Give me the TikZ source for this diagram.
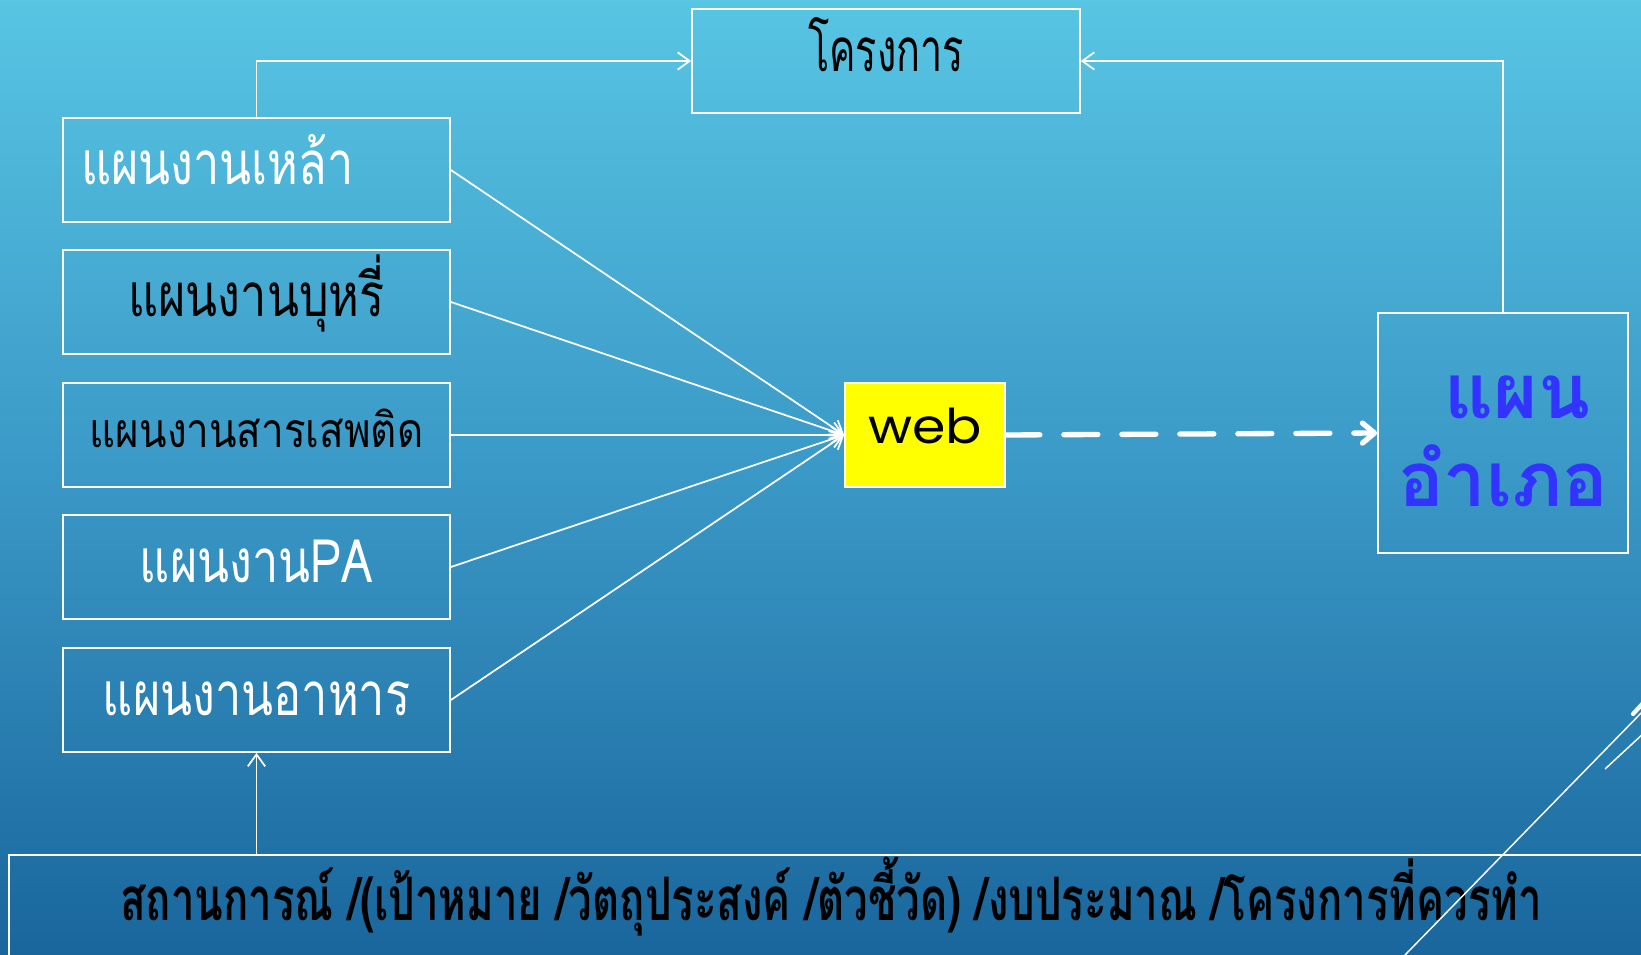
\documentclass[tikz,border=0pt]{standalone}
\usepackage{fontspec}
\usetikzlibrary{arrows.meta}
\newfontfamily\thai[Script=Thai,FakeStretch=0.78]{Loma}
\newfontfamily\thaiproj[Script=Thai,FakeStretch=0.66]{Loma}
\newfontfamily\thaismall[Script=Thai,FakeStretch=0.84]{Loma}
\newfontfamily\thaisit[Script=Thai,FakeStretch=0.70]{Loma}
\newfontfamily\thaiamp[Script=Thai]{Loma}
\newfontfamily\webfont[FakeStretch=1.12]{Poppins}
\definecolor{bgtop}{RGB}{88,197,227}
\definecolor{bgmid}{RGB}{58,152,198}
\definecolor{bgbot}{RGB}{25,102,156}
\definecolor{ampblue}{RGB}{51,51,255}
\definecolor{webyellow}{RGB}{255,255,0}
\begin{document}
\begin{tikzpicture}[x=0.75pt,y=-0.75pt,
  plan/.style={draw=white,line width=1.3pt,inner sep=0pt,
    minimum width=387*0.75pt,minimum height=104*0.75pt,
    font=\thai\fontsize{45}{50}\selectfont,text height=22.5pt,text depth=0pt},
  link/.style={draw=white,line width=1.3pt,-{Straight Barb[length=9pt,width=13pt]}},
  deco/.style={draw=white,line width=1.1pt}]
\useasboundingbox (0,0) rectangle (1641,955);
\shade[top color=bgtop,bottom color=bgbot,middle color=bgmid] (0,0) rectangle (1641,955);

% boxes
\node[plan,minimum width=388*0.75pt,font=\thaiproj\fontsize{45}{50}\selectfont,text depth=6pt] (proj) at (886,61) {โครงการ};
\node[plan,white,text width=351*0.75pt,align=left] (b1) at (256.5,170) {แผนงานเหล้า};
\node[plan] (b2) at (256.5,302) {แผนงานบุหรี่};
\node[plan,font=\thaismall\fontsize{36}{40}\selectfont,text height=18pt] (b3) at (256.5,435) {แผนงานสารเสพติด};
\node[plan,white] (b4) at (256.5,567) {แผนงานPA};
\node[plan,white] (b5) at (256.5,700) {แผนงานอาหาร};
\node[draw=white,line width=1.3pt,fill=webyellow,minimum width=160*0.75pt,minimum height=104*0.75pt,
  inner sep=0pt,font=\webfont\fontsize{36}{40}\selectfont,text height=19.5pt,text depth=7.5pt] (web) at (925,435) {web};
\node[draw=white,line width=1.3pt,minimum width=250*0.75pt,minimum height=240*0.75pt,inner sep=0pt] (amp) at (1503,433) {};
\node[text=ampblue,font=\thaiamp\bfseries\fontsize{57}{66}\selectfont,align=center,inner sep=0pt] (amptext) at (1503,441) {\hspace{22pt}แผน\\อำเภอ};
\node[draw=white,line width=1.3pt,minimum width=1700*0.75pt,minimum height=160*0.75pt,inner sep=0pt] (sit) at (859,935) {};
\node[font=\thaisit\bfseries\fontsize{45}{50}\selectfont,text height=22.5pt,text depth=0pt,inner sep=0pt] (sittext) at (831,905)
  {สถานการณ์ /(เป้าหมาย /วัตถุประสงค์ /ตัวชี้วัด) /งบประมาณ /โครงการที่ควรทำ};

% connectors
\draw[link] (b1.north) |- (proj.west);
\draw[link] (amp.north) |- (proj.east);
\foreach \b in {b1,b2,b3,b4,b5}
  \draw[link] (\b.east) -- (web.west);
\draw[link] (sit.north -| b5.south) -- (b5.south);
\draw[draw=white,line width=4pt,line cap=round,dash pattern=on 25.5pt off 18pt,
  -{Straight Barb[round,length=9pt,width=15pt]}] (web.east) -- (amp.west);

% decoration
\draw[deco] (1405,955) -- (1645,709);
\draw[deco] (1605,769) -- (1645,732);
\draw[draw=white,line width=3.2pt,line cap=round] (1633,714) -- (1645,701);
\end{tikzpicture}
\end{document}
